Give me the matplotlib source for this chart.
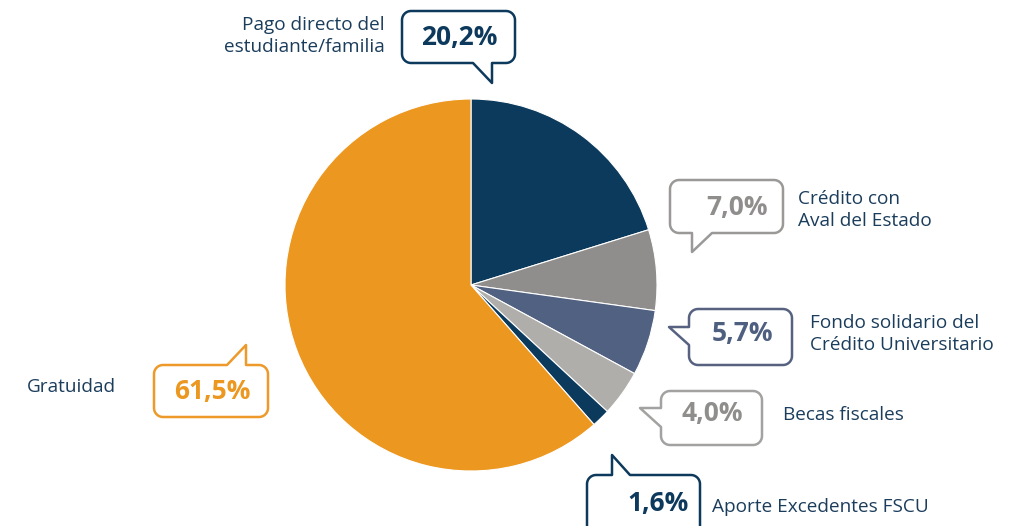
import numpy as np
import matplotlib
matplotlib.use("Agg")
import matplotlib.pyplot as plt
from matplotlib.patches import Polygon

W, H = 1027, 526

categories = ["Pago directo del\nestudiante/familia", "Crédito con\nAval del Estado",
              "Fondo solidario del\nCrédito Universitario", "Becas fiscales",
              "Aporte Excedentes FSCU", "Gratuidad"]
values = [20.2, 7.0, 5.7, 4.0, 1.6, 61.5]
pct_labels = ["20,2%", "7,0%", "5,7%", "4,0%", "1,6%", "61,5%"]
colors = ["#0b3a5c", "#8f8e8c", "#506182", "#b0aeab", "#0b3a5c", "#ec971f"]
box_colors = ["#0d3a5c", "#9a9998", "#56627f", "#a3a2a0", "#0d3a5c", "#ee9a2a"]
text_colors = ["#0d3a5c", "#8f8e8c", "#4f5f80", "#8f8e8c", "#0d3a5c", "#ec971f"]
label_color = "#1b3d5c"

plt.rcParams['font.family'] = ['Open Sans', 'DejaVu Sans']

fig = plt.figure(figsize=(W / 100, H / 100), dpi=100)
ax = fig.add_axes([0, 0, 1, 1])

def Y(y):
    return H - y

cx, cy, R = 471, 285, 186
ax.pie(values, colors=colors, startangle=90, counterclock=False,
       center=(cx, Y(cy)), radius=R,
       wedgeprops=dict(edgecolor="white", linewidth=0.8))
ax.set_xlim(0, W)
ax.set_ylim(0, H)
ax.set_aspect("equal")
ax.axis("off")


def callout(x0, y0, x1, y1, side, tail, color, r=9):
    pts = []
    def parc(ccx, ccy, a0, a1):
        t = np.radians(np.linspace(a0, a1, 10))
        return [(ccx + r * np.cos(a), ccy + r * np.sin(a)) for a in t]
    pts += parc(x0 + r, y0 + r, 180, 270)
    if side == "top":
        pts += tail
    pts += parc(x1 - r, y0 + r, 270, 360)
    pts += parc(x1 - r, y1 - r, 0, 90)
    if side == "bottom":
        pts += tail
    pts += parc(x0 + r, y1 - r, 90, 180)
    if side == "left":
        pts += tail
    poly = [(x, Y(y)) for x, y in pts]
    ax.add_patch(Polygon(poly, closed=True, facecolor="white", edgecolor=color,
                         linewidth=1.8, joinstyle="round", zorder=5))


boxes = [
    (402, 11, 515, 63, "bottom", [(492, 63), (492, 83), (473, 63)]),
    (670, 180, 783, 233, "bottom", [(712, 233), (692, 252), (692, 233)]),
    (689, 309, 792, 365, "left", [(689, 345), (669, 327), (689, 327)]),
    (661, 391, 762, 445, "left", [(661, 427), (640, 408), (661, 408)]),
    (587, 475, 700, 540, "top", [(612, 475), (612, 455), (630, 475)]),
    (154, 365, 268, 417, "top", [(227, 365), (246, 345), (246, 365)]),
]
pct_pos = [(459, 37), (737, 207), (742, 333), (712, 413), (658, 503), (212, 392)]

for (x0, y0, x1, y1, side, tail), c, tc, p, (tx, ty) in zip(boxes, box_colors, text_colors, pct_labels, pct_pos):
    callout(x0, y0, x1, y1, side, tail, c)
    ax.text(tx, Y(ty), p, ha="center", va="center", fontsize=19, fontweight="bold",
            color=tc, zorder=6)

label_pos = [(385, 36, "right"), (798, 210, "left"), (810, 334, "left"),
             (783, 415, "left"), (712, 507, "left"), (27, 387, "left")]
for lab, (lx, ly, ha) in zip(categories, label_pos):
    ax.text(lx, Y(ly), lab, ha=ha, va="center", fontsize=13.7, color=label_color,
            linespacing=1.3, multialignment=ha, zorder=6)

fig.savefig("out.png", dpi=100)
